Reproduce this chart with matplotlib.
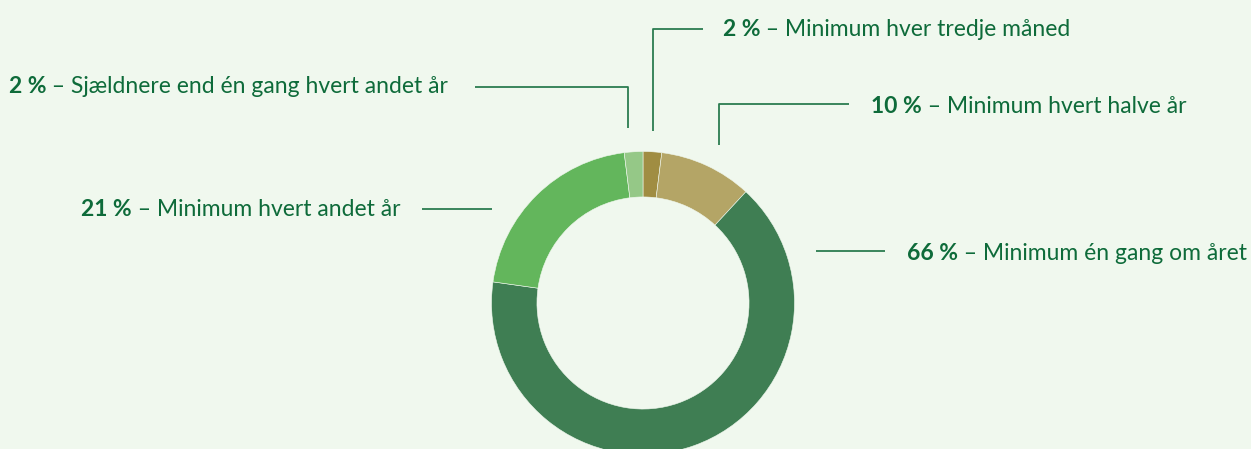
import matplotlib
matplotlib.use("Agg")
import matplotlib.pyplot as plt

# Data
pct_labels = ["2 %", "10 %", "66 %", "21 %", "2 %"]
descriptions = [
    "Minimum hver tredje måned",
    "Minimum hvert halve år",
    "Minimum én gang om året",
    "Minimum hvert andet år",
    "Sjældnere end én gang hvert andet år",
]
values = [2, 10, 66, 21, 2]
colors = ["#a08d42", "#b4a566", "#3f7e53", "#63b65c", "#95c887"]

BG = "#f0f8ee"
TXT = "#0e6b3a"
LINE = "#2b7d50"

plt.rcParams["font.family"] = ["Lato", "DejaVu Sans"]

W, H = 1251, 449
fig = plt.figure(figsize=(W / 100, H / 100), dpi=100, facecolor=BG)
ax = fig.add_axes([0, 0, 1, 1])
ax.set_facecolor(BG)

cx, cy, R = 643, 303, 151.5
ax.pie(values, colors=colors, startangle=-90, counterclock=True,
       center=(cx, cy), radius=R,
       wedgeprops=dict(width=R * 0.30, edgecolor=BG, linewidth=0.4))

ax.set_xlim(0, W)
ax.set_ylim(H, 0)
ax.set_aspect("equal")
ax.axis("off")

FS = 16.5
# label layout: (text x, text center y, leader polyline)
layout = [
    (723, 27.5, [(653, 131), (653, 28.5), (703, 28.5)]),
    (871, 104.5, [(719, 145), (719, 104), (849, 104)]),
    (907, 251, [(816, 250.5), (885, 250.5)]),
    (81, 207.5, [(492, 209), (422, 209)]),
    (9, 84.5, [(628, 128), (628, 86.5), (475, 86.5)]),
]

for (tx, ty, pts), p, d in zip(layout, pct_labels, descriptions):
    xs = [q[0] for q in pts]
    ys = [q[1] for q in pts]
    ax.plot(xs, ys, color=LINE, lw=1.3, solid_capstyle="butt")
    t1 = ax.text(tx, ty, p, fontsize=FS, fontweight="bold", color=TXT,
                 ha="left", va="center_baseline")
    ax.annotate(" – " + d, xy=(1, 0), xycoords=t1, fontsize=FS,
                color=TXT, ha="left", va="bottom")

fig.savefig("out.png", dpi=100, facecolor=BG)
